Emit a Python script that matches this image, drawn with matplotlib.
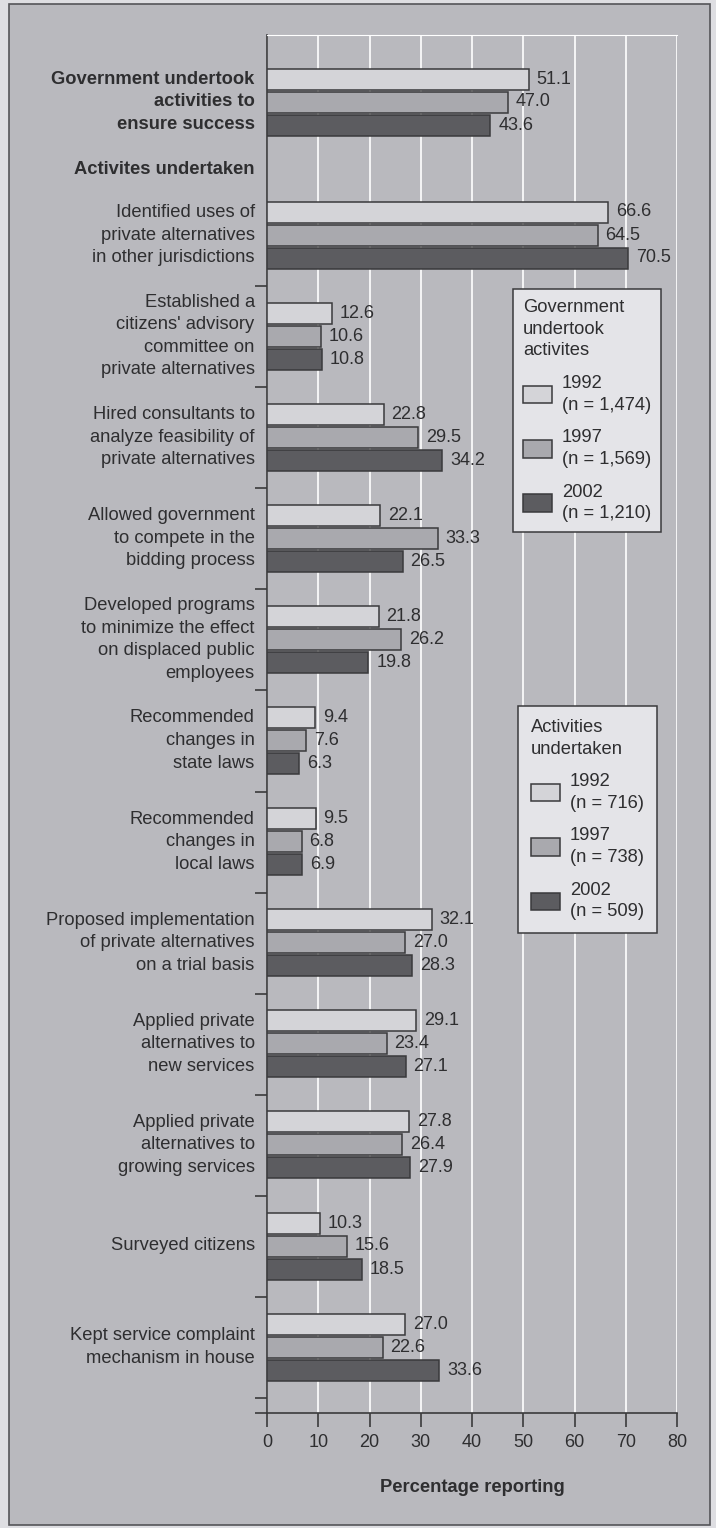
import numpy as np
import matplotlib
matplotlib.use("Agg")
import matplotlib.pyplot as plt
from matplotlib.patches import Patch, Rectangle

plt.rcParams['font.family'] = ['Liberation Sans', 'DejaVu Sans']

# datos
categorias = [
    "Government undertook\nactivities to\nensure success",
    "Identified uses of\nprivate alternatives\nin other jurisdictions",
    "Established a\ncitizens' advisory\ncommittee on\nprivate alternatives",
    "Hired consultants to\nanalyze feasibility of\nprivate alternatives",
    "Allowed government\nto compete in the\nbidding process",
    "Developed programs\nto minimize the effect\non displaced public\nemployees",
    "Recommended\nchanges in\nstate laws",
    "Recommended\nchanges in\nlocal laws",
    "Proposed implementation\nof private alternatives\non a trial basis",
    "Applied private\nalternatives to\nnew services",
    "Applied private\nalternatives to\ngrowing services",
    "Surveyed citizens",
    "Kept service complaint\nmechanism in house",
]
v1992 = [51.1, 66.6, 12.6, 22.8, 22.1, 21.8, 9.4, 9.5, 32.1, 29.1, 27.8, 10.3, 27.0]
v1997 = [47.0, 64.5, 10.6, 29.5, 33.3, 26.2, 7.6, 6.8, 27.0, 23.4, 26.4, 15.6, 22.6]
v2002 = [43.6, 70.5, 10.8, 34.2, 26.5, 19.8, 6.3, 6.9, 28.3, 27.1, 27.9, 18.5, 33.6]
encabezado = "Activites undertaken"
leyenda1_titulo = "Government\nundertook\nactivites"
leyenda1 = ["1992\n(n = 1,474)", "1997\n(n = 1,569)", "2002\n(n = 1,210)"]
leyenda2_titulo = "Activities\nundertaken"
leyenda2 = ["1992\n(n = 716)", "1997\n(n = 738)", "2002\n(n = 509)"]

colores = ['#d4d4d8', '#a9a9ae', '#5c5c60']
borde = '#3a3a3c'
texto = '#2e2e30'
fondo = '#b9b9be'
fs = 13.2

W, H = 716, 1528
fig = plt.figure(figsize=(W / 100, H / 100), dpi=100, facecolor='#dedee2')
fig.patches.append(Rectangle((9 / W, 3 / H), 701 / W, 1521 / H, transform=fig.transFigure,
                             facecolor=fondo, edgecolor='#555558', lw=1.2, zorder=-5))

y_bot, y_top = 1413, 35
ax = fig.add_axes([267 / W, (H - y_bot) / H, 410 / W, (y_bot - y_top) / H])
ax.set_facecolor('none')
ax.set_xlim(0, 80)
ax.set_ylim(y_bot, y_top)

# posiciones de los grupos (filas en pixeles)
centros = np.array([102] + [235 + 101.1 * k for k in range(12)])
paso = 23
alto = 21
for vals, off, c in zip([v1992, v1997, v2002], [-paso, 0, paso], colores):
    ax.barh(centros + off, vals, height=alto, color=c, edgecolor=borde, lw=1.1, zorder=3)
    for y, v in zip(centros + off, vals):
        ax.text(v + 1.5, y, f"{v:.1f}", va='center', ha='left', fontsize=13, color=texto, zorder=4)

for i, (y, cat) in enumerate(zip(centros, categorias)):
    ax.text(-2.4, y, cat, ha='right', va='center', fontsize=fs, color=texto,
            linespacing=1.43, fontweight='bold' if i == 0 else 'normal', clip_on=False)
ax.text(-2.4, 170, encabezado, ha='right', va='center', fontsize=fs, color=texto,
        fontweight='bold', clip_on=False)

# ejes y rejilla
ax.set_xticks(np.arange(0, 81, 10))
ax.xaxis.grid(True, color='white', lw=1.2, zorder=1)
ax.set_axisbelow(True)
ax.tick_params(axis='x', direction='out', length=10, width=1.2, color=borde,
               labelsize=13, labelcolor=texto, pad=5)
ax.set_yticks(list(centros[1:] + 51) + [y_bot])
ax.tick_params(axis='y', direction='out', length=9, width=1.2, color=borde, labelleft=False)
ax.spines['top'].set_color('white')
ax.spines['right'].set_visible(False)
for s in ['left', 'bottom']:
    ax.spines[s].set_color(borde)
    ax.spines[s].set_linewidth(1.2)
ax.set_xlabel("Percentage reporting", fontsize=fs, fontweight='bold', color=texto, labelpad=20)

def leyenda(titulo, etiquetas, x, y, pad):
    h = [Patch(facecolor=c, edgecolor=borde, lw=1.1) for c in colores]
    lg = fig.legend(h, etiquetas, title=titulo, loc='upper left', bbox_to_anchor=(x / W, 1 - y / H),
                    bbox_transform=fig.transFigure, fontsize=fs, title_fontsize=fs,
                    alignment='left', frameon=True, fancybox=False, framealpha=1,
                    facecolor='#e4e4e8', edgecolor='#3a3a3c', handlelength=1.57, handleheight=1.08,
                    labelspacing=0.85, borderpad=pad, handletextpad=0.55, borderaxespad=0)
    lg.get_frame().set_linewidth(1.1)
    for t in lg.get_texts():
        t.set_color(texto)
        t.set_linespacing(1.36)
    lg.get_title().set_color(texto)
    lg.get_title().set_linespacing(1.36)
    return lg

leyenda(leyenda1_titulo, leyenda1, 513, 289, 0.55)
leyenda(leyenda2_titulo, leyenda2, 518, 706, 0.7)

plt.savefig('out.png', dpi=100, facecolor=fig.get_facecolor())
